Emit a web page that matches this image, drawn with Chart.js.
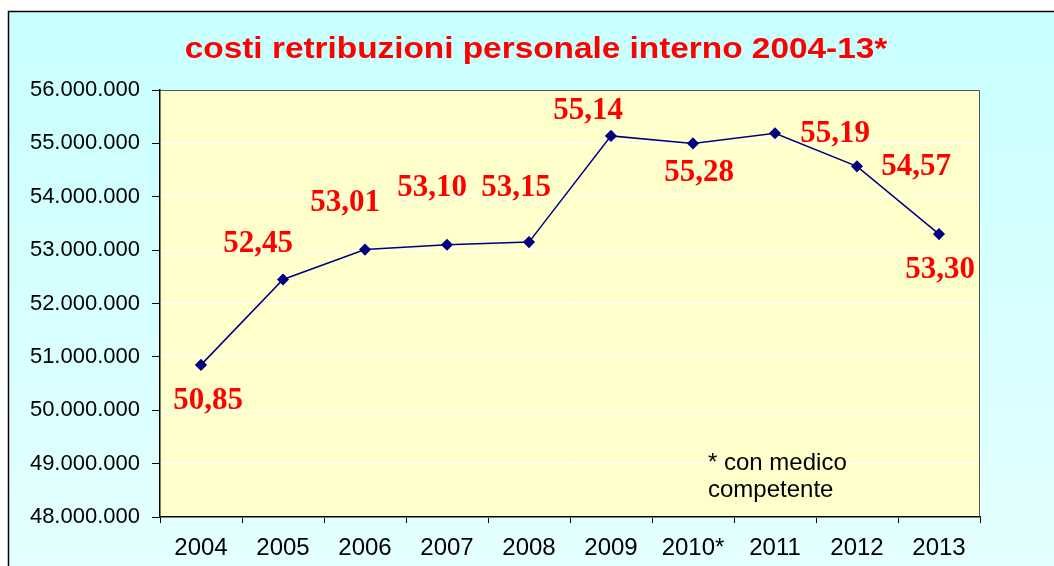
<!DOCTYPE html>
<html>
<head>
<meta charset="utf-8">
<script src="https://cdn.jsdelivr.net/npm/chart.js@4/dist/chart.umd.min.js"></script>
<style>
    html, body { margin: 0; padding: 0; background: #fff; }
    #wrap { width: 1054px; height: 566px; }
</style>
</head>
<body>
<div id="wrap"><canvas id="costChart" width="1054" height="566"></canvas></div>
<script>
// Dati del grafico
const anni = ['2004', '2005', '2006', '2007', '2008', '2009', '2010*', '2011', '2012', '2013'];
const costi = [50850000, 52450000, 53010000, 53100000, 53150000, 55140000, 55000000, 55190000, 54570000, 53300000];
const etichette = ['50,85', '52,45', '53,01', '53,10', '53,15', '55,14', '55,28', '55,19', '54,57', '53,30'];
const yMin = 48000000;
const yMax = 56000000;
const yStep = 1000000;
const titolo = 'costi retribuzioni personale interno 2004-13*';
const nota = ['* con medico', 'competente'];

function formatDots(v) {
    return String(Math.round(v)).replace(/\B(?=(\d{3})+(?!\d))/g, '.');
}

// Sfondo, cornice, titolo e nota
const frame = {
    id: 'frame',
    beforeDraw(chart) {
        const { ctx, chartArea: a } = chart;
        ctx.save();
        const g = ctx.createLinearGradient(0, 11, 0, 566);
        g.addColorStop(0, '#c8ffff');
        g.addColorStop(1, '#e4ffff');
        ctx.fillStyle = g;
        ctx.fillRect(8, 11, 1100, 600);
        ctx.strokeStyle = '#000';
        ctx.lineWidth = 1.5;
        ctx.strokeRect(8.5, 11.5, 1100, 600);
        ctx.fillStyle = '#ffffcc';
        ctx.fillRect(a.left, a.top, a.right - a.left, a.bottom - a.top);

        // titolo (leggermente allargato come nell'originale)
        ctx.translate(536, 50);
        ctx.scale(1.15, 1);
        ctx.fillStyle = '#ff0000';
        ctx.font = 'bold 29px "Liberation Sans", Arial, sans-serif';
        ctx.textAlign = 'center';
        ctx.textBaseline = 'middle';
        ctx.fillText(titolo, 0, 0);
        ctx.restore();
    },
    afterDraw(chart) {
        const { ctx, chartArea: a } = chart;
        ctx.save();
        ctx.strokeStyle = '#555';
        ctx.lineWidth = 1;
        ctx.beginPath();
        ctx.moveTo(a.left, a.top + 0.5);
        ctx.lineTo(a.right - 0.5, a.top + 0.5);
        ctx.lineTo(a.right - 0.5, a.bottom);
        ctx.stroke();
        // nota
        ctx.fillStyle = '#000';
        ctx.font = '24px "Liberation Sans", Arial, sans-serif';
        ctx.textBaseline = 'middle';
        ctx.textAlign = 'left';
        ctx.fillText(nota[0], 708, 463);
        ctx.fillText(nota[1], 708, 490);
        ctx.restore();
    }
};

// Etichette dei valori accanto ai punti
const pointLabels = {
    id: 'pointLabels',
    afterDatasetsDraw(chart, args, opts) {
        const { ctx } = chart;
        const meta = chart.getDatasetMeta(0);
        ctx.save();
        ctx.fillStyle = '#ff0000';
        ctx.font = 'bold 31px "Liberation Serif", "Times New Roman", serif';
        ctx.textAlign = 'center';
        ctx.textBaseline = 'middle';
        meta.data.forEach((pt, i) => {
            const off = opts.offsets[i];
            ctx.fillText(etichette[i], pt.x + off[0], pt.y + off[1]);
        });
        ctx.restore();
    }
};

new Chart(document.getElementById('costChart'), {
    type: 'line',
    data: {
        labels: anni,
        datasets: [{
            data: costi,
            borderColor: '#000080',
            backgroundColor: '#000080',
            borderWidth: 1.5,
            pointStyle: 'rectRot',
            pointRadius: 5,
            pointBackgroundColor: '#000080',
            pointBorderColor: '#000080',
            tension: 0,
            fill: false
        }]
    },
    options: {
        responsive: false,
        animation: false,
        layout: { padding: { left: 0, right: 74, top: 90, bottom: 0 } },
        plugins: {
            legend: { display: false },
            tooltip: { enabled: false },
            title: { display: false },
            pointLabels: {
                offsets: [[7, 36], [-25, -35], [-20, -47], [-15, -57], [-13, -54],
                          [-23, -25], [6, 30], [60, 1], [59, 1], [1, 36]]
            }
        },
        scales: {
            x: {
                offset: true,
                grid: { offset: true, drawOnChartArea: false, tickLength: 6, tickColor: '#000' },
                border: { color: '#000', width: 1.5 },
                ticks: {
                    color: '#000',
                    padding: 11,
                    font: { family: '"Liberation Sans", Arial, sans-serif', size: 24 }
                },
                afterFit(scale) { scale.height = 49; }
            },
            y: {
                min: yMin,
                max: yMax,
                grid: { color: '#ffffff', lineWidth: 1, tickLength: 8, tickColor: '#000' },
                border: { color: '#000', width: 1.5 },
                ticks: {
                    stepSize: yStep,
                    color: '#000',
                    padding: 12,
                    font: { family: '"Liberation Sans", Arial, sans-serif', size: 22 },
                    callback: v => formatDots(v)
                },
                afterFit(scale) { scale.width = 160; }
            }
        }
    },
    plugins: [frame, pointLabels]
});
</script>
</body>
</html>
